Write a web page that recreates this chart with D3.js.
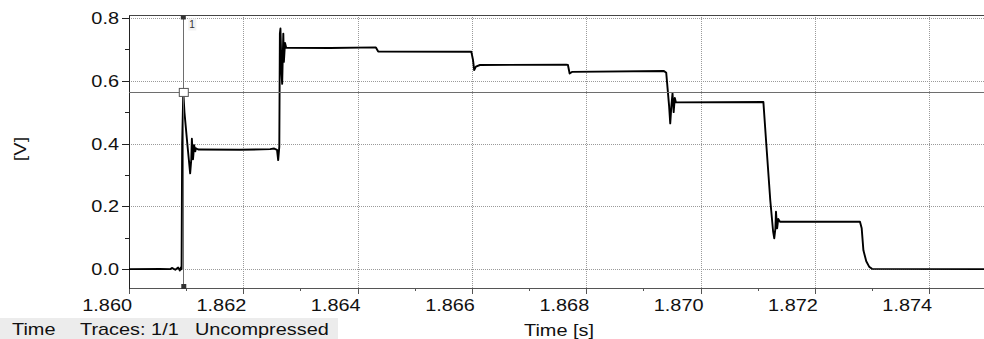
<!DOCTYPE html>
<html lang="en">
<head>
    <meta charset="UTF-8" />
    <title>Trace</title>
    <style>
        body { margin: 0; background: #fff; }
        svg { display: block; }
        .lbl { font-family: "Liberation Sans", Arial, sans-serif; font-size: 17px; fill: #111; }
        .grid line { stroke: #9a9a9a; stroke-width: 1; stroke-dasharray: 1,1; shape-rendering: crispEdges; }
        .grid path { display: none; }
        .tick-ax path, .tick-ax line { stroke: #222; shape-rendering: crispEdges; }
        .xax path, .xax line { stroke: #555; shape-rendering: crispEdges; }
        .trace { fill: none; stroke: #000; stroke-width: 1.9; stroke-linejoin: round; }
        .cursor { stroke: #6e6e6e; stroke-width: 1; shape-rendering: crispEdges; }
    </style>
</head>
<body>
    <svg id="chart" width="984" height="339"></svg>

    <script src="https://d3js.org/d3.v7.min.js"></script>
    <script>
        // trace samples (time in s, value in V)
        const times = [
            1.86000, 1.86054, 1.86072, 1.86075, 1.86081, 1.86086, 1.86089, 1.86091,
            1.86092, 1.86093, 1.86095, 1.86097, 1.86102, 1.86107, 1.86109, 1.86110,
            1.86112, 1.86114, 1.86116, 1.86117, 1.86121, 1.86194, 1.86247, 1.86254,
            1.86259, 1.86261, 1.86263, 1.86264, 1.86265, 1.86267, 1.86268, 1.86270,
            1.86271, 1.86273, 1.86275, 1.86352, 1.86432, 1.86436, 1.86599, 1.86602,
            1.86604, 1.86607, 1.86614, 1.86765, 1.86768, 1.86771, 1.86775, 1.86936,
            1.86940, 1.86945, 1.86947, 1.86949, 1.86951, 1.86953, 1.86955, 1.86957,
            1.87110, 1.87115, 1.87122, 1.87127, 1.87129, 1.87131, 1.87132, 1.87134,
            1.87136, 1.87139, 1.87279, 1.87282, 1.87285, 1.87290, 1.87295, 1.87300,
            1.87496
        ];
        const volts = [
            0.000, 0.001, 0.000, 0.004, -0.002, 0.005, -0.004, 0.006,
            0.000, 0.400, 0.563, 0.500, 0.400, 0.305, 0.350, 0.415,
            0.350, 0.395, 0.375, 0.385, 0.381, 0.380, 0.382, 0.384,
            0.380, 0.347, 0.390, 0.750, 0.766, 0.620, 0.590, 0.750,
            0.660, 0.720, 0.705, 0.704, 0.706, 0.693, 0.692, 0.665,
            0.634, 0.645, 0.650, 0.651, 0.650, 0.623, 0.628, 0.631,
            0.625, 0.520, 0.464, 0.520, 0.560, 0.500, 0.545, 0.531,
            0.532, 0.400, 0.220, 0.120, 0.098, 0.130, 0.183, 0.130,
            0.160, 0.151, 0.151, 0.130, 0.060, 0.025, 0.008, 0.001,
            0.000
        ];

        const xMajor = [1.860, 1.862, 1.864, 1.866, 1.868, 1.870, 1.872, 1.874];
        const xMinor = [1.861, 1.863, 1.865, 1.867, 1.869, 1.871, 1.873];
        const yMajor = [0.0, 0.2, 0.4, 0.6, 0.8];
        const yMinor = [0.1, 0.3, 0.5, 0.7];

        const cursorTime = 1.86095;
        const cursorValue = 0.5627;

        const svg = d3.select('#chart');
        const padL = 129, padR = 984, padT = 15.5, padB = 288;
        const stretch = 1.17; // the labels in the original are drawn a bit wide

        const x = d3.scaleLinear().domain([1.860, 1.87496]).range([padL, padR]);
        const y = d3.scaleLinear().domain([-0.06, 0.8076]).range([padB, padT]);

        // grid
        svg.append('g').attr('class', 'grid')
            .attr('transform', `translate(0,${padB})`)
            .call(d3.axisBottom(x).tickValues(xMajor.slice(1)).tickSize(-(padB - padT)).tickFormat(''));
        svg.append('g').attr('class', 'grid')
            .attr('transform', `translate(${padL},0)`)
            .call(d3.axisLeft(y).tickValues(yMajor).tickSize(-(padR - padL)).tickFormat(''));

        // top border
        svg.append('line')
            .attr('x1', padL).attr('x2', padR)
            .attr('y1', padT).attr('y2', padT)
            .attr('stroke', '#444').attr('shape-rendering', 'crispEdges');

        // axes
        svg.append('g').attr('class', 'xax')
            .attr('transform', `translate(0,${padB})`)
            .call(d3.axisBottom(x).tickValues(xMajor).tickSize(6).tickSizeOuter(0).tickFormat(''));
        svg.append('g').attr('class', 'xax')
            .attr('transform', `translate(0,${padB})`)
            .call(d3.axisBottom(x).tickValues(xMinor).tickSize(3).tickSizeOuter(0).tickFormat(''))
            .select('.domain').remove();

        svg.append('g').attr('class', 'tick-ax')
            .attr('transform', `translate(${padL},0)`)
            .call(d3.axisLeft(y).tickValues(yMajor).tickSize(7).tickSizeOuter(0).tickFormat(''));
        svg.append('g').attr('class', 'tick-ax')
            .attr('transform', `translate(${padL},0)`)
            .call(d3.axisLeft(y).tickValues(yMinor).tickSize(4).tickSizeOuter(0).tickFormat(''))
            .select('.domain').remove();

        // tick labels
        svg.append('g').selectAll('g')
            .data(xMajor)
            .join('g')
            .attr('transform', d => `translate(${x(d) + 3},310.5) scale(${stretch},1)`)
            .append('text')
            .attr('class', 'lbl')
            .attr('text-anchor', 'end')
            .text(d => d.toFixed(3));

        svg.append('g').selectAll('g')
            .data(yMajor)
            .join('g')
            .attr('transform', d => `translate(${padL - 10},${y(d) + 6}) scale(${stretch},1)`)
            .append('text')
            .attr('class', 'lbl')
            .attr('text-anchor', 'end')
            .text(d => d.toFixed(1));

        // axis titles
        svg.append('g')
            .attr('transform', `translate(559,336) scale(${stretch},1)`)
            .append('text').attr('class', 'lbl')
            .attr('text-anchor', 'middle')
            .text('Time [s]');

        svg.append('g')
            .attr('transform', `translate(26,149) rotate(-90) scale(${stretch},1)`)
            .append('text').attr('class', 'lbl')
            .attr('text-anchor', 'middle')
            .text('[V]');

        // status strip
        svg.append('rect')
            .attr('x', 0).attr('y', 318)
            .attr('width', 338).attr('height', 21)
            .attr('fill', '#ececec');
        const status = [
            { t: 'Time', x: 12 },
            { t: 'Traces: 1/1', x: 80 },
            { t: 'Uncompressed', x: 195 }
        ];
        svg.append('g').selectAll('g')
            .data(status)
            .join('g')
            .attr('transform', d => `translate(${d.x},335) scale(${stretch},1)`)
            .append('text').attr('class', 'lbl')
            .text(d => d.t);

        // trace
        const pts = times.map((t, i) => [t, volts[i]]);
        svg.append('path')
            .attr('class', 'trace')
            .attr('d', d3.line().x(d => x(d[0])).y(d => y(d[1]))(pts));

        // cursor
        const cx = x(cursorTime), cy = y(cursorValue);
        svg.append('line').attr('class', 'cursor')
            .attr('x1', padL).attr('x2', padR)
            .attr('y1', cy).attr('y2', cy);
        svg.append('line').attr('class', 'cursor')
            .attr('x1', cx).attr('x2', cx)
            .attr('y1', padT).attr('y2', padB);
        svg.append('rect')
            .attr('x', cx - 2.5).attr('y', padT).attr('width', 5).attr('height', 4)
            .attr('fill', '#333');
        svg.append('rect')
            .attr('x', cx - 2).attr('y', padB - 4).attr('width', 5).attr('height', 5)
            .attr('fill', '#333');
        svg.append('rect')
            .attr('x', cx - 4).attr('y', cy - 4).attr('width', 9).attr('height', 8)
            .attr('fill', '#fff').attr('stroke', '#555');
        svg.append('rect')
            .attr('x', cx + 5).attr('y', padT + 3).attr('width', 8).attr('height', 12)
            .attr('fill', '#f2f2f2');
        svg.append('text')
            .attr('x', cx + 6).attr('y', padT + 12.5)
            .attr('font-family', 'Liberation Sans, Arial, sans-serif')
            .attr('font-size', 10).attr('fill', '#333')
            .text('1');
    </script>
</body>
</html>
